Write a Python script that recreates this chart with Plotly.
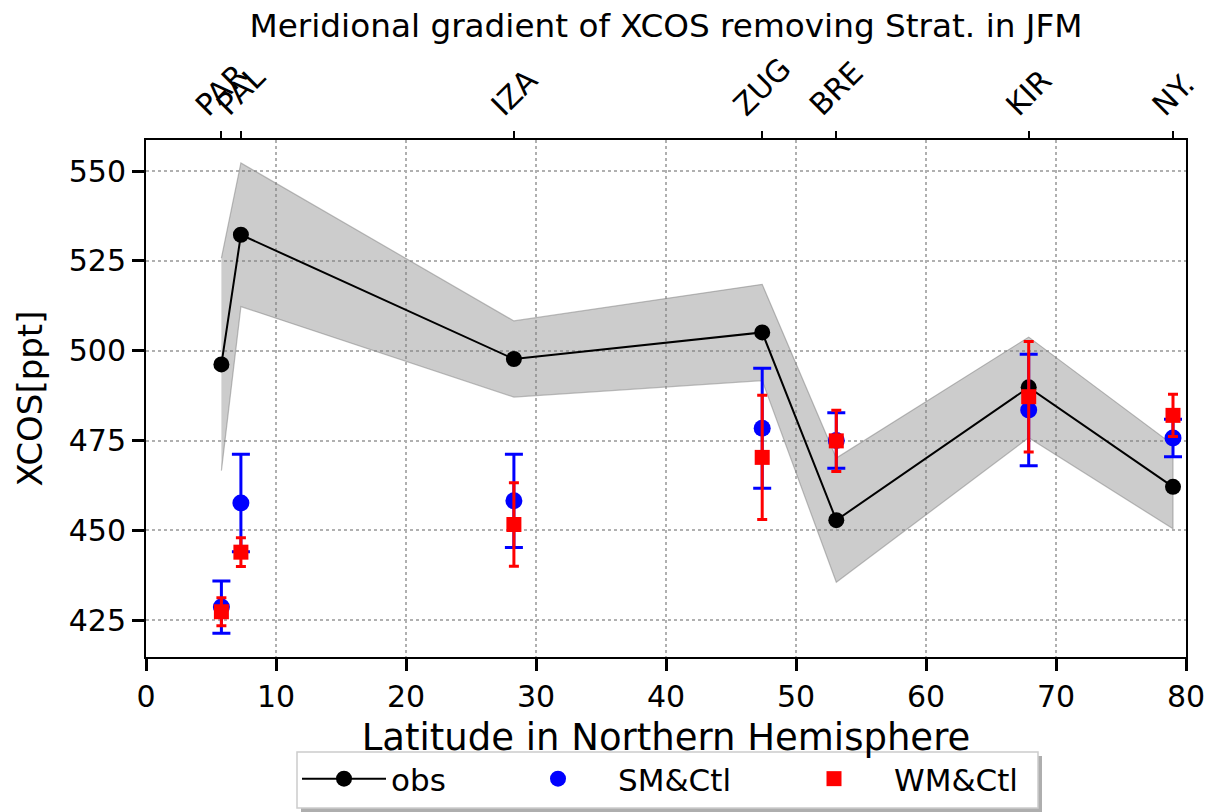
import plotly.graph_objects as go

stations = ["PAR", "PAL", "IZA", "ZUG", "BRE", "KIR", "NY."]
lats = [5.8, 7.3, 28.3, 47.4, 53.1, 67.9, 79.0]

obs = [496.2, 532.3, 497.7, 505.1, 452.8, 489.8, 462.1]
obs_std = [29.6, 20.0, 10.6, 13.4, 17.3, 14.0, 11.7]

sm = [428.6, 457.6, 458.2, 478.4, 475.0, 483.5, 475.7]
sm_err = [7.3, 13.6, 13.0, 16.7, 7.7, 15.5, 5.2]

wm = [427.3, 443.9, 451.6, 470.3, 474.9, 487.2, 482.0]
wm_err = [3.9, 4.0, 11.6, 17.3, 8.5, 15.4, 5.9]

FONT = "DejaVu Sans"
W, H = 1213, 812
L, R, T, B = 146, 27, 140, 155
PW, PH = W - L - R, H - T - B


def px2x(px):
    return (px - L) / PW


def px2y(py):
    return (H - B - py) / PH


upper = [o + s for o, s in zip(obs, obs_std)]
lower = [o - s for o, s in zip(obs, obs_std)]

fig = go.Figure()

fig.add_trace(go.Scatter(
    x=lats + lats[::-1], y=upper + lower[::-1],
    fill="toself", fillcolor="rgba(128,128,128,0.4)",
    line=dict(color="rgba(128,128,128,0.5)", width=1.2),
    mode="lines", showlegend=False, hoverinfo="skip"))

fig.add_trace(go.Scatter(
    x=lats, y=obs, mode="lines+markers", name="obs", legend="legend",
    line=dict(color="black", width=2),
    marker=dict(color="black", size=16, symbol="circle")))

fig.add_trace(go.Scatter(
    x=lats, y=sm, mode="markers", name="SM&Ctl", legend="legend2",
    marker=dict(color="blue", size=17, symbol="circle"),
    error_y=dict(type="data", array=sm_err, color="blue", thickness=3, width=9)))

fig.add_trace(go.Scatter(
    x=lats, y=wm, mode="markers", name="WM&Ctl", legend="legend3",
    marker=dict(color="red", size=15, symbol="square"),
    error_y=dict(type="data", array=wm_err, color="red", thickness=3, width=5)))

# invisible trace to anchor the top axis
fig.add_trace(go.Scatter(
    x=lats, y=obs, xaxis="x2", mode="markers",
    marker=dict(opacity=0), showlegend=False, hoverinfo="skip"))

annotations = [dict(x=lat, y=px2y(125), xref="x", yref="paper", text=name,
                    textangle=-45, showarrow=False, xanchor="center", yanchor="bottom",
                    font=dict(size=30, family=FONT, color="black"))
               for lat, name in zip(lats, stations)]

leg_common = dict(orientation="h", yanchor="middle", xanchor="left",
                  bgcolor="rgba(0,0,0,0)", borderwidth=0,
                  font=dict(size=31, family=FONT, color="black"))

fig.update_layout(
    width=W, height=H,
    margin=dict(l=L, r=R, t=T, b=B, autoexpand=False),
    paper_bgcolor="white", plot_bgcolor="white",
    font=dict(family=FONT, size=30, color="black"),
    title=dict(text="Meridional gradient of XCOS removing Strat. in JFM",
               x=0.5, xref="paper", xanchor="center",
               y=1 - 26 / H, yanchor="middle", font=dict(size=32.7, family=FONT)),
    xaxis=dict(range=[0, 80], tickvals=[0, 10, 20, 30, 40, 50, 60, 70, 80],
               automargin=False,
               showline=True, linecolor="black", linewidth=2, mirror=True,
               ticks="outside", ticklen=12, tickwidth=2.5, tickcolor="black",
               showgrid=True, gridcolor="#b0b0b0", griddash="dot", gridwidth=1.5,
               zeroline=False,
               title=dict(text="Latitude in Northern Hemisphere",
                          font=dict(size=37, family=FONT), standoff=11),
               tickfont=dict(size=30)),
    xaxis2=dict(range=[0, 80], overlaying="x", side="top", anchor="y",
                automargin=False,
                tickvals=lats, showticklabels=False,
                ticks="outside", ticklen=8, tickwidth=2, tickcolor="black",
                showgrid=False, zeroline=False, showline=False),
    yaxis=dict(range=[414.7, 558.7], tickvals=[425, 450, 475, 500, 525, 550],
               automargin=False,
               showline=True, linecolor="black", linewidth=2, mirror=True,
               ticks="outside", ticklen=12, tickwidth=2.5, tickcolor="black",
               showgrid=True, gridcolor="#b0b0b0", griddash="dot", gridwidth=1.5,
               zeroline=False,
               title=dict(text="XCOS[ppt]", font=dict(size=34, family=FONT), standoff=16),
               tickfont=dict(size=30)),
    legend=dict(x=px2x(297), y=px2y(779), itemwidth=84, **leg_common),
    legend2=dict(x=px2x(498), y=px2y(779), itemwidth=110, **leg_common),
    legend3=dict(x=px2x(774), y=px2y(779), itemwidth=110, **leg_common),
    annotations=annotations,
    shapes=[
        dict(type="rect", xref="paper", yref="paper",
             x0=px2x(301), x1=px2x(1042), y0=px2y(812), y1=px2y(756),
             fillcolor="rgba(120,120,120,0.6)", line=dict(width=0), layer="above"),
        dict(type="rect", xref="paper", yref="paper",
             x0=px2x(297), x1=px2x(1038), y0=px2y(808), y1=px2y(752),
             fillcolor="white", line=dict(color="#cccccc", width=1.5), layer="above"),
    ],
)

fig.write_html("out.html")
